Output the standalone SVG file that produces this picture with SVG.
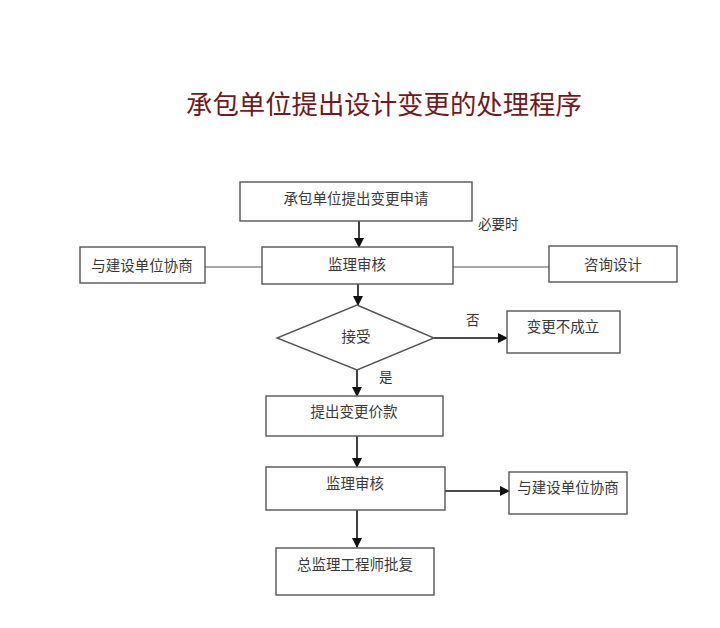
<svg xmlns="http://www.w3.org/2000/svg" width="720" height="628" viewBox="0 0 720 628">
<style>
.box{fill:#fff;stroke:#555;stroke-width:1.4}
.t{font-family:"Noto Sans CJK SC","Noto Sans",sans-serif;font-size:14.5px;fill:#3a3a3a;text-anchor:middle;dominant-baseline:central}
.lbl{font-family:"Noto Sans CJK SC","Noto Sans",sans-serif;font-size:13.5px;fill:#333;dominant-baseline:central}
.ar{stroke:#111;stroke-width:1.6;fill:none;marker-end:url(#ah)}
.ln{stroke:#555;stroke-width:1.1;fill:none}
.title{font-family:"Noto Sans CJK SC","Noto Sans",sans-serif;font-size:26.4px;fill:#6e1a1e}
</style>
<defs>
<marker id="ah" markerWidth="10" markerHeight="10" refX="9" refY="5" orient="auto" markerUnits="userSpaceOnUse">
<path d="M0,0 L10,5 L0,10 Z" fill="#111"/>
</marker>
</defs>
<rect width="720" height="628" fill="#fff"/>
<text class="title" x="186" y="114">承包单位提出设计变更的处理程序</text>
<g id="connectors">
<line class="ar" x1="359" y1="221" x2="359" y2="247"/>
<line class="ln" x1="205" y1="267" x2="262" y2="267"/>
<line class="ln" x1="453" y1="267" x2="549" y2="267"/>
<line class="ar" x1="358" y1="284" x2="358" y2="305"/>
<line class="ar" x1="434" y1="338" x2="507" y2="338"/>
<line class="ar" x1="357" y1="370" x2="357" y2="396"/>
<line class="ar" x1="357" y1="436" x2="357" y2="467"/>
<line class="ar" x1="445" y1="491" x2="509" y2="491"/>
<line class="ar" x1="357" y1="510" x2="357" y2="547"/>
<text class="lbl" x="478" y="223">必要时</text>
<text class="lbl" x="466" y="319">否</text>
<text class="lbl" x="379" y="376">是</text>
</g>
<g id="n1"><rect class="box" x="240" y="182" width="232" height="39"/><text class="t" x="356" y="197">承包单位提出变更申请</text></g>
<g id="n2"><rect class="box" x="262" y="247" width="191" height="37"/><text class="t" x="357" y="263">监理审核</text></g>
<g id="n3"><rect class="box" x="80" y="247" width="125" height="36"/><text class="t" x="142" y="264">与建设单位协商</text></g>
<g id="n4"><rect class="box" x="549" y="246" width="128" height="36"/><text class="t" x="613" y="263">咨询设计</text></g>
<g id="n5"><polygon class="box" points="357,305 434,338 357,370 277,338"/><text class="t" x="356" y="335">接受</text></g>
<g id="n6"><rect class="box" x="507" y="311" width="113" height="42"/><text class="t" x="563" y="325">变更不成立</text></g>
<g id="n7"><rect class="box" x="266" y="396" width="177" height="40"/><text class="t" x="354" y="410">提出变更价款</text></g>
<g id="n8"><rect class="box" x="266" y="467" width="179" height="43"/><text class="t" x="355" y="482">监理审核</text></g>
<g id="n9"><rect class="box" x="509" y="472" width="118" height="42"/><text class="t" x="568" y="486">与建设单位协商</text></g>
<g id="n10"><rect class="box" x="276" y="548" width="158" height="47"/><text class="t" x="355" y="563">总监理工程师批复</text></g>
</svg>
